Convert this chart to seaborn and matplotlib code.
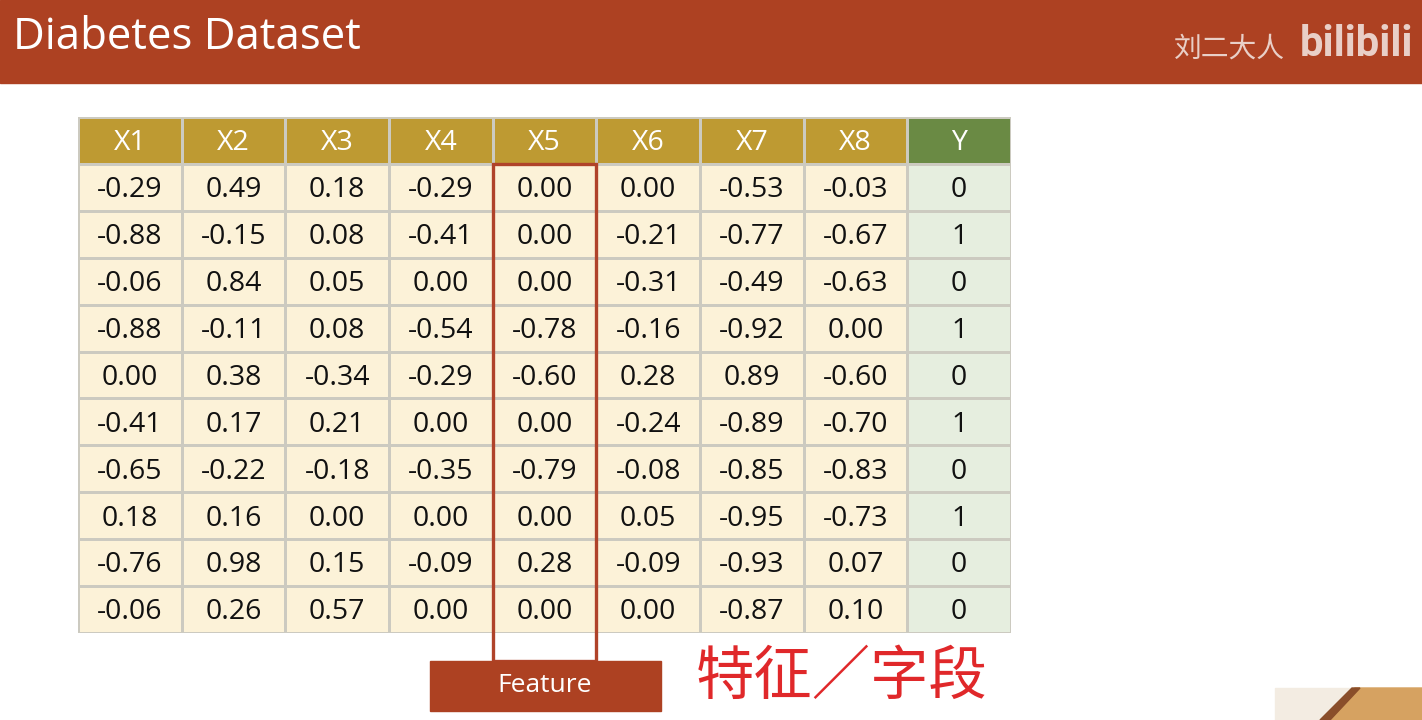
import numpy as np
import seaborn as sns
import matplotlib.pyplot as plt
from matplotlib.colors import ListedColormap
from matplotlib.patches import Rectangle, Polygon

# table data
columns = ["X1", "X2", "X3", "X4", "X5", "X6", "X7", "X8", "Y"]
x1 = [-0.29, -0.88, -0.06, -0.88, 0.00, -0.41, -0.65, 0.18, -0.76, -0.06]
x2 = [0.49, -0.15, 0.84, -0.11, 0.38, 0.17, -0.22, 0.16, 0.98, 0.26]
x3 = [0.18, 0.08, 0.05, 0.08, -0.34, 0.21, -0.18, 0.00, 0.15, 0.57]
x4 = [-0.29, -0.41, 0.00, -0.54, -0.29, 0.00, -0.35, 0.00, -0.09, 0.00]
x5 = [0.00, 0.00, 0.00, -0.78, -0.60, 0.00, -0.79, 0.00, 0.28, 0.00]
x6 = [0.00, -0.21, -0.31, -0.16, 0.28, -0.24, -0.08, 0.05, -0.09, 0.00]
x7 = [-0.53, -0.77, -0.49, -0.92, 0.89, -0.89, -0.85, -0.95, -0.93, -0.87]
x8 = [-0.03, -0.67, -0.63, 0.00, -0.60, -0.70, -0.83, -0.73, 0.07, 0.10]
y = [0, 1, 0, 1, 0, 1, 0, 1, 0, 0]
highlight = "X5"

title = "Diabetes Dataset"
author = "刘二大人"
feature_label = "Feature"
note = "特征／字段"

sns.set_theme(style="white")
plt.rcParams['font.family'] = ['Open Sans', 'Noto Sans CJK SC', 'DejaVu Sans']

W, H = 1422, 720
fig = plt.figure(figsize=(W / 100, H / 100), dpi=100)
fig.patch.set_facecolor("white")

# build the cell grid: header row + 10 data rows
feats = [x1, x2, x3, x4, x5, x6, x7, x8]
n_rows = len(y)
codes = np.zeros((n_rows + 1, len(columns)))
annot = np.empty((n_rows + 1, len(columns)), dtype=object)
for j, name in enumerate(columns):
    annot[0, j] = name
    codes[0, j] = 3 if name == "Y" else 2
for i in range(n_rows):
    for j, f in enumerate(feats):
        annot[i + 1, j] = f"{f[i]:.2f}"
        codes[i + 1, j] = 0
    annot[i + 1, -1] = str(y[i])
    codes[i + 1, -1] = 1

cmap = ListedColormap(["#FCF2D8", "#E6EEDF", "#BE9A32", "#6A8A44"])
ax_t = fig.add_axes([78 / W, 1 - 633 / H, 933 / W, 516 / H])
sns.heatmap(codes, cmap=cmap, vmin=-0.5, vmax=3.5, annot=annot, fmt="",
            cbar=False, linewidths=0.8, linecolor="#CCCAC0",
            xticklabels=False, yticklabels=False, ax=ax_t,
            annot_kws={"fontsize": 20.5})
for t in ax_t.texts:
    tx, ty = t.get_position()
    t.set_position((tx, ty + 0.06))
    if t.get_color() != "w":
        t.set_color("#111111")

# red frame round the highlighted feature column
col = columns.index(highlight)
ax_t.add_patch(Rectangle((col, 1), 1, n_rows + 0.6, fill=False,
                         edgecolor="#B0432A", linewidth=2.4,
                         clip_on=False, zorder=5))

# overlay for the slide decoration
ax_o = fig.add_axes([0, 0, 1, 1])
ax_o.set_xlim(0, W)
ax_o.set_ylim(H, 0)
ax_o.axis("off")
ax_o.patch.set_visible(False)

ax_o.add_patch(Rectangle((0, 0), W, 83, color="#AD4122"))
ax_o.text(13, 38, title, color="white", fontsize=31.5, va="center", ha="left")
ax_o.text(1285, 50, author, color="#E9CFC7", fontsize=20, va="center",
          ha="right", fontweight="medium")
ax_o.text(1300, 44, "bilibili", color="#E9CFC7", fontsize=30, va="center",
          ha="left", fontweight="bold", family=["Roboto", "DejaVu Sans"],
          fontstretch="condensed")

ax_o.add_patch(Rectangle((430, 661), 231, 50, color="#AD4122", zorder=6))
ax_o.text(545, 686, feature_label, color="white", fontsize=19,
          ha="center", va="center", zorder=7)

ax_o.text(842, 678, note, color="#E0282A", fontsize=42, ha="center",
          va="center", fontweight="light")

# webcam corner
ax_o.add_patch(Rectangle((1275, 688), W - 1275, H - 688, color="#F3ECE2"))
ax_o.add_patch(Polygon([[1330, 720], [1355, 688], [1422, 688], [1422, 720]],
                       closed=True, color="#D6A261"))
ax_o.add_patch(Polygon([[1320, 720], [1352, 688], [1360, 688], [1330, 720]],
                       closed=True, color="#8A4E2A"))

fig.savefig("out.png", dpi=100)
